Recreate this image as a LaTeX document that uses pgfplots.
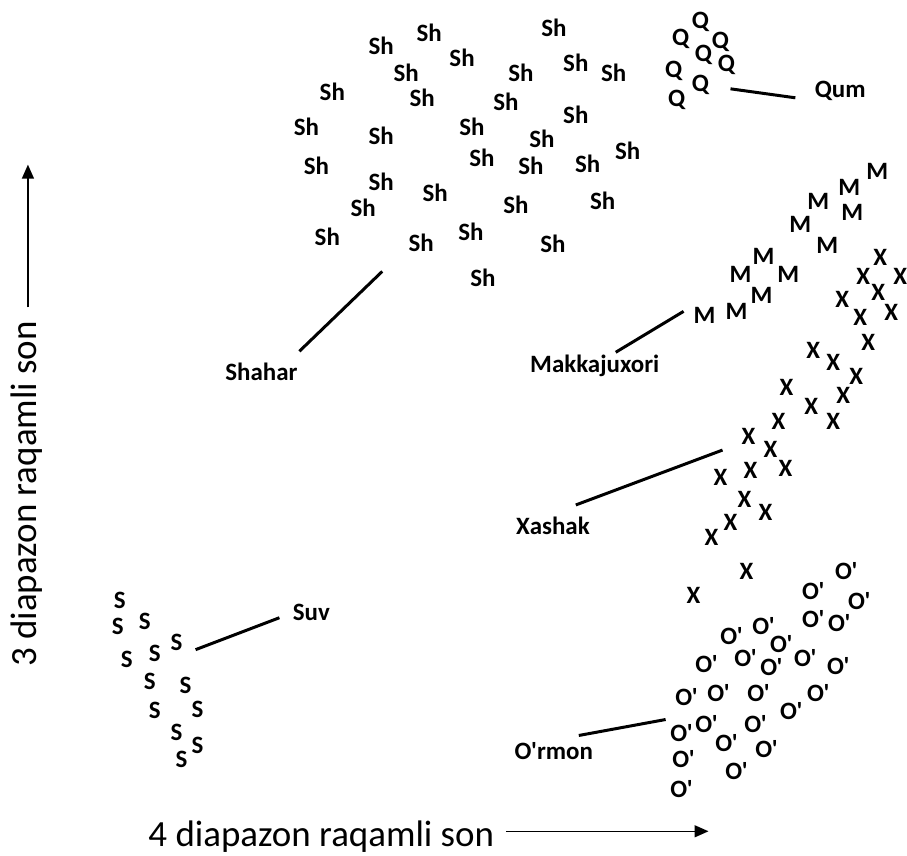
\documentclass[border=0pt]{standalone}
\usepackage{fontspec}
\setmainfont{Carlito}[Ligatures=TeXOff]
\usepackage{pgfplots}
\pgfplotsset{compat=1.18}
\usetikzlibrary{arrows.meta}
\newcommand\ap{\char"27\relax}
\newcommand\mk{\fontsize{25}{29}\selectfont\bfseries}
\newcommand\ttl{\fontsize{37}{43}\selectfont}

\begin{document}
\begin{tikzpicture}
\begin{axis}[
  width=907pt, height=856pt, scale only axis,
  xmin=0, xmax=907, ymin=0, ymax=856, y dir=reverse,
  hide axis, clip=false,
  every node near coord/.append style={anchor=center, font=\mk, text=black, inner sep=0pt},
]
\path (rel axis cs:0,0) rectangle (rel axis cs:1,1);

% Shahar
\addplot[draw=none, mark=none, nodes near coords={Sh}] coordinates {
(430,33) (555,28) (382,46) (463,58) (407,73) (522,73) (577,63) (615,73)
(333,92) (423,98) (507,102) (577,115) (307,127) (382,136) (473,127) (543,139)
(629,151) (317,166) (483,158) (532,166) (589,164) (382,182) (436,193) (364,208)
(517,205) (604,201) (328,237) (422,243) (472,232) (554,244) (484,278)};
% Qum
\addplot[draw=none, mark=none, nodes near coords={Q}] coordinates {
(702,22) (682,39) (722,42) (705,55) (728,65) (675,71) (702,85) (678,100)};
% Makkajuxori
\addplot[draw=none, mark=none, nodes near coords={M}] coordinates {
(879,172) (851,188) (820,202) (854,213) (802,225) (829,246) (765,257)
(742,275) (790,275) (763,296) (738,312) (706,316)};
% Xashak
\addplot[draw=none, mark=none, nodes near coords={X}] coordinates {
(882,258) (865,277) (902,277) (880,293) (844,300) (862,318) (893,313)
(870,343) (815,351) (835,363) (858,377) (788,388) (845,396) (813,407)
(835,422) (780,422) (750,437) (772,450) (752,471) (787,469) (722,478)
(746,500) (767,513) (732,523) (713,539) (748,573) (695,597)};
% O'rmon
\addplot[draw=none, mark=none, nodes near coords={O\ap}] coordinates {
(848,572) (815,592) (861,602) (815,620) (841,624) (765,627) (733,637)
(783,645) (747,659) (708,665) (773,668) (807,659) (840,667) (760,694)
(720,694) (688,699) (820,695) (793,713) (757,726) (708,726) (683,735)
(728,745) (768,751) (685,761) (738,773) (683,791)};
% Suv
\addplot[draw=none, mark=none, nodes near coords={S}] coordinates {
(120,602) (118,628) (145,623) (177,644) (155,655) (127,661) (150,683)
(186,687) (155,712) (198,711) (177,734) (198,747) (182,761)};

% leader lines
\addplot[black, line width=3pt] coordinates {(383,272) (300,352)};
\addplot[black, line width=3pt] coordinates {(732,89) (797,98)};
\addplot[black, line width=3pt] coordinates {(685,312) (617,353)};
\addplot[black, line width=3pt] coordinates {(724,451) (577,506)};
\addplot[black, line width=3pt] coordinates {(667,721) (580,737)};
\addplot[black, line width=3pt] coordinates {(280,619) (196,651)};

\node[font=\mk] at (axis cs:262,373) {Shahar};
\node[font=\mk] at (axis cs:842,91) {Qum};
\node[font=\mk] at (axis cs:596,367) {Makkajuxori};
\node[font=\mk] at (axis cs:554,527) {Xashak};
\node[font=\mk] at (axis cs:555,753) {O\ap rmon};
\node[font=\mk] at (axis cs:312,614) {Suv};

% axis arrows and titles
\addplot[black, line width=1.5pt, -{Triangle[length=14pt,width=12pt]}] coordinates {(507,833) (710,833)};
\addplot[black, line width=1.5pt, -{Triangle[length=14pt,width=12pt]}] coordinates {(28,308) (28,165)};
\node[font=\ttl] at (axis cs:322,838) {4 diapazon raqamli son};
\node[font=\ttl, rotate=90] at (axis cs:27,495) {3 diapazon raqamli son};
\end{axis}
\end{tikzpicture}
\end{document}
